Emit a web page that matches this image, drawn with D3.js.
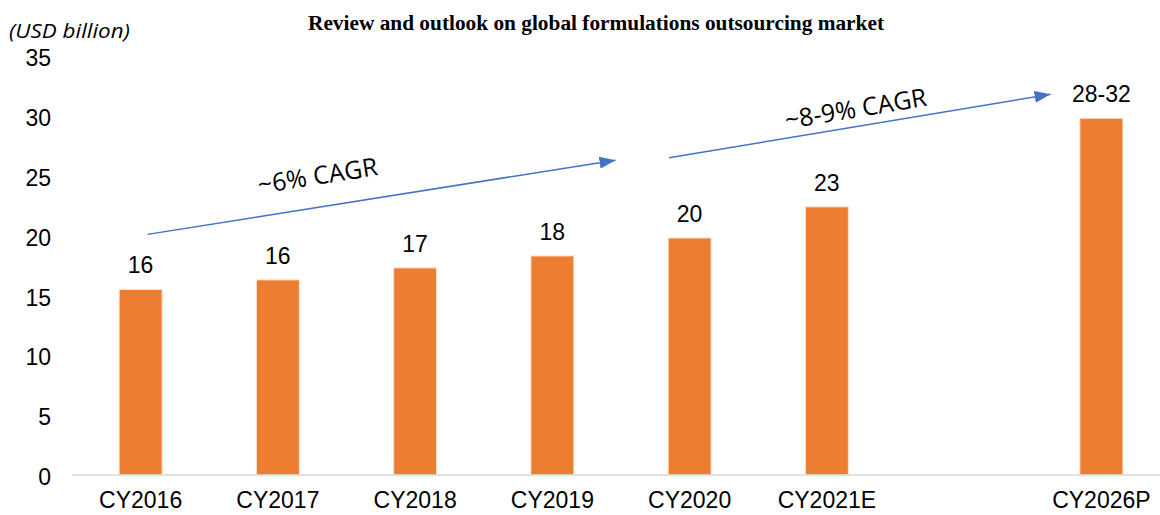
<!DOCTYPE html>
<html>
<head>
<meta charset="utf-8">
<script src="https://cdn.jsdelivr.net/npm/d3@7"></script>
<style>
  body { margin: 0; background: #fff; }
  svg { display: block; }
</style>
</head>
<body>
<div class="chart"></div>
<script>
// values (USD billion)
const categories = ["CY2016", "CY2017", "CY2018", "CY2019", "CY2020", "CY2021E", "CY2026P"];
const values = [15.5, 16.3, 17.3, 18.3, 19.8, 22.4, 29.8];
const valueLabels = ["16", "16", "17", "18", "20", "23", "28-32"];
const yTicks = [0, 5, 10, 15, 20, 25, 30, 35];

// CAGR arrows, in slot index / value units
const arrowStarts = [[0.05, 20.1], [3.85, 26.5]];
const arrowEnds = [[3.46, 26.3], [6.63, 31.8]];
const arrowLabels = ["~6% CAGR", "~8-9% CAGR"];
const arrowLabelPos = [[1.29, 25.0], [5.21, 30.6]];

const width = 1160, height = 515;
const orange = "#ED7D31", blue = "#4472C4";

// the forecast year sits one empty slot away from the rest
const slots = categories.slice(0, 6).concat(["gap", categories[6]]);

let svg = d3.select(".chart")
  .append("svg")
  .attr("width", width)
  .attr("height", height);

let x = d3.scaleBand()
  .domain(slots)
  .range([72, 1170])
  .paddingInner(0.687)
  .paddingOuter(0.3435);

let y = d3.scaleLinear()
  .domain([0, 35])
  .range([475, 56]);

let xIdx = d3.scaleLinear()
  .domain([0, slots.length - 1])
  .range([x(slots[0]) + x.bandwidth() / 2, x(slots[slots.length - 1]) + x.bandwidth() / 2]);

// title
svg.append("text")
  .attr("x", 596)
  .attr("y", 30)
  .attr("text-anchor", "middle")
  .attr("textLength", 576)
  .attr("lengthAdjust", "spacingAndGlyphs")
  .style("font-family", "'Liberation Serif', 'Times New Roman', serif")
  .style("font-weight", "bold")
  .style("font-size", "20px")
  .text("Review and outlook on global formulations outsourcing market");

// unit label
svg.append("text")
  .attr("x", 9)
  .attr("y", 38)
  .attr("textLength", 121)
  .attr("lengthAdjust", "spacingAndGlyphs")
  .style("font-family", "'Open Sans', sans-serif")
  .style("font-style", "italic")
  .style("font-size", "20px")
  .text("(USD billion)");

// y axis
let yAxis = svg.append("g")
  .attr("transform", "translate(72,0)")
  .call(d3.axisLeft(y).tickValues(yTicks).tickSize(0).tickPadding(21));
yAxis.select(".domain").remove();
yAxis.selectAll("text")
  .attr("dy", "0.42em")
  .style("font-family", "'Liberation Sans', Arial, sans-serif")
  .style("font-size", "23px")
  .style("fill", "#000");

// bars
svg.selectAll(".bar")
  .data(values)
  .enter()
  .append("rect")
  .attr("class", "bar")
  .attr("x", (d, i) => x(categories[i]))
  .attr("y", d => y(d))
  .attr("width", x.bandwidth())
  .attr("height", d => y(0) - y(d))
  .attr("fill", orange)
  .attr("stroke", "#fbe3d2")
  .attr("stroke-width", 1);

// x axis
let xAxis = svg.append("g")
  .attr("transform", "translate(0," + y(0) + ")")
  .call(d3.axisBottom(x).tickSize(0).tickPadding(17).tickFormat(d => d === "gap" ? "" : d));
xAxis.select(".domain").remove();
xAxis.append("line")
  .attr("x1", 72)
  .attr("x2", width)
  .attr("stroke", "#d9d9d9")
  .attr("stroke-width", 1.5);
xAxis.selectAll("text")
  .style("font-family", "'Liberation Sans', Arial, sans-serif")
  .style("font-size", "23px")
  .style("fill", "#000");

// value labels
svg.selectAll(".vlabel")
  .data(values)
  .enter()
  .append("text")
  .attr("class", "vlabel")
  .attr("x", (d, i) => x(categories[i]) + x.bandwidth() / 2)
  .attr("y", d => y(d) - 16)
  .attr("text-anchor", "middle")
  .style("font-family", "'Liberation Sans', Arial, sans-serif")
  .style("font-size", "23px")
  .text((d, i) => valueLabels[i]);

// arrows
svg.append("defs")
  .append("marker")
  .attr("id", "head")
  .attr("markerUnits", "userSpaceOnUse")
  .attr("viewBox", "0 0 16 12")
  .attr("markerWidth", 16)
  .attr("markerHeight", 12)
  .attr("refX", 16)
  .attr("refY", 6)
  .attr("orient", "auto")
  .append("path")
  .attr("d", "M0,0 L16,6 L0,12 Z")
  .attr("fill", blue);

arrowStarts.forEach((s, i) => {
  let e = arrowEnds[i];
  let x1 = xIdx(s[0]), y1 = y(s[1]), x2 = xIdx(e[0]), y2 = y(e[1]);
  let angle = Math.atan2(y2 - y1, x2 - x1) * 180 / Math.PI;

  svg.append("line")
    .attr("x1", x1)
    .attr("y1", y1)
    .attr("x2", x2)
    .attr("y2", y2)
    .attr("stroke", blue)
    .attr("stroke-width", 1.5)
    .attr("marker-end", "url(#head)");

  let lx = xIdx(arrowLabelPos[i][0]), ly = y(arrowLabelPos[i][1]);
  svg.append("text")
    .attr("transform", "translate(" + lx + "," + ly + ") rotate(" + angle + ")")
    .attr("text-anchor", "middle")
    .attr("dy", "0.35em")
    .style("font-family", "'Open Sans', sans-serif")
    .style("font-size", "25px")
    .text(arrowLabels[i]);
});
</script>
</body>
</html>
